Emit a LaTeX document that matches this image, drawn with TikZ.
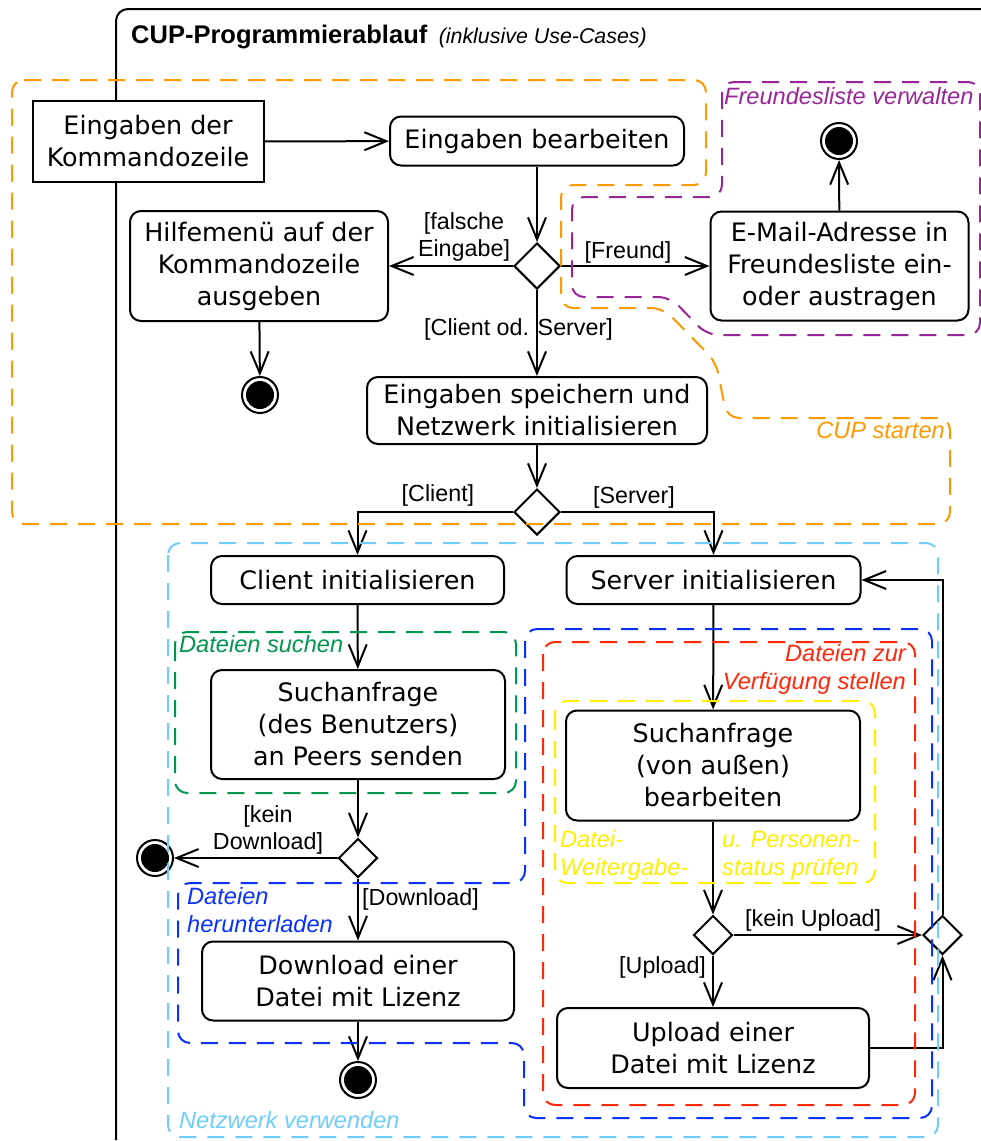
\documentclass[tikz,border=0pt]{standalone}
\usepackage{fontspec}
\setmainfont{Liberation Sans}
\newfontfamily\actfont{DejaVu Sans}
\usetikzlibrary{arrows.meta,shapes.geometric}

\definecolor{zoneorange}{RGB}{255,153,0}
\definecolor{zonepurple}{RGB}{153,38,153}
\definecolor{zonegreen}{RGB}{0,150,80}
\definecolor{zonelightblue}{RGB}{110,205,255}
\definecolor{zoneblue}{RGB}{10,50,255}
\definecolor{zonered}{RGB}{255,40,10}
\definecolor{zoneyellow}{RGB}{255,238,0}

\begin{document}
\begin{tikzpicture}[x=1pt,y=-1pt,
  flow/.style={line width=2pt,-{Straight Barb[length=22pt,width=18pt]}},
  action/.style={draw,line width=2pt,fill=white,rounded corners=11pt,align=center,
    inner sep=0pt,font=\actfont\fontsize{25.4}{32}\selectfont},
  plainbox/.style={action,sharp corners},
  decision/.style={draw,diamond,aspect=1,line width=2pt,fill=white,inner sep=0pt},
  final/.style={circle,draw,line width=2pt,fill=white,minimum size=36pt,inner sep=0pt,
    path picture={\fill[black] (path picture bounding box.center) circle (14pt);}},
  guard/.style={font=\fontsize{23.3}{27}\selectfont,inner sep=0pt},
  zone/.style={line width=2pt,dash pattern=on 17pt off 11pt,rounded corners=12pt},
  zonelabel/.style={font=\itshape\fontsize{23.6}{27.5}\selectfont,inner sep=0pt},
]
\clip (0,0) rectangle (981,1141);

% outer activity frame
\draw[line width=2pt,rounded corners=12pt] (116,1140) -- (116,9) -- (1010,9);
\node[anchor=base west,inner sep=0pt,font=\bfseries\fontsize{25.5}{30}\selectfont]
  (title) at (131,43.5) {CUP-Programmierablauf};
\node[anchor=base west,inner sep=0pt,font=\itshape\fontsize{21.4}{26}\selectfont]
  (subtitle) at ([xshift=11pt]title.base east) {(inklusive Use-Cases)};

% actions
\node[plainbox,minimum width=231pt,minimum height=81pt] (cmd) at (148,141.5) {Eingaben der\\Kommandozeile};
\node[action,minimum width=294pt,minimum height=49pt] (edit) at (537,141) {Eingaben bearbeiten};
\node[decision,minimum size=46pt] (d1) at (537,266) {};
\node[action,minimum width=258pt,minimum height=110pt] (help) at (259,266) {Hilfemen\"u auf der\\Kommandozeile\\ausgeben};
\node[final] (endhelp) at (260,395) {};
\node[action,minimum width=258pt,minimum height=109pt] (mail) at (839.5,266) {E-Mail-Adresse in\\Freundesliste ein-\\oder austragen};
\node[final] (endmail) at (839,141) {};
\node[action,minimum width=340pt,minimum height=67pt] (store) at (537,410.5) {Eingaben speichern und\\Netzwerk initialisieren};
\node[decision,minimum size=46pt] (d2) at (537,512) {};
\node[action,minimum width=293pt,minimum height=48pt] (client) at (357.5,580) {Client initialisieren};
\node[action,minimum width=294pt,minimum height=48pt] (server) at (713.5,580) {Server initialisieren};
\node[action,minimum width=294pt,minimum height=109pt] (search) at (358,724.5) {Suchanfrage\\(des Benutzers)\\an Peers senden};
\node[decision,minimum size=39pt] (d3) at (358,858) {};
\node[final] (enddl) at (155,858) {};
\node[action,minimum width=312pt,minimum height=79pt] (download) at (358,981) {Download einer\\Datei mit Lizenz};
\node[final] (endnet) at (358,1080) {};
\node[action,minimum width=294pt,minimum height=110pt] (request) at (713,765.5) {Suchanfrage\\(von au\ss en)\\bearbeiten};
\node[decision,minimum size=39pt] (d4) at (713,935) {};
\node[decision,minimum size=39pt] (d5) at (942.5,935) {};
\node[action,minimum width=312pt,minimum height=80pt] (upload) at (713,1048) {Upload einer\\Datei mit Lizenz};

% control flow
\draw[flow] (cmd) -- (edit);
\draw[flow] (edit) -- (d1);
\draw[flow] (d1) -- (help);
\draw[flow] (d1) -- (mail);
\draw[flow] (d1) -- (store);
\draw[flow] (help) -- (endhelp);
\draw[flow] (mail) -- (endmail);
\draw[flow] (store) -- (d2);
\draw[flow] (d2.west) -| (client.north);
\draw[flow] (d2.east) -| (server.north);
\draw[flow] (client) -- (search);
\draw[flow] (search) -- (d3);
\draw[flow] (d3) -- (enddl);
\draw[flow] (d3) -- (download);
\draw[flow] (download) -- (endnet);
\draw[flow] (server) -- (request);
\draw[flow] (request) -- (d4);
\draw[flow] (d4) -- (d5);
\draw[flow] (d4) -- (upload);
\draw[flow] (upload.east) -| (d5.south);
\draw[flow] (d5.north) |- (server.east);

% guards (multi-line nodes sit on the baseline of their last line)
\node[guard,align=center,anchor=base] (gwrong) at (464,256.5) {[falsche\\Eingabe]};
\node[guard,anchor=base] (gfriend) at (628,258) {[Freund]};
\node[guard,anchor=base west] (gcs) at (424,335.5) {[Client od. Server]};
\node[guard,anchor=base west] (gclient) at (401.5,501.5) {[Client]};
\node[guard,anchor=base west] (gserver) at (593,503) {[Server]};
\node[guard,align=center,anchor=base] (gnodl) at (268,849.5) {[kein\\Download]};
\node[guard,anchor=base west] (gdl) at (362,905) {[Download]};
\node[guard,anchor=base west] (gnoup) at (745,926.5) {[kein Upload]};
\node[guard,anchor=base west] (gup) at (619,973) {[Upload]};

% use-case regions
\draw[zone,zoneorange] (12,80) -- (706,80) -- (706,185) -- (561,185) -- (561,308) -- (663,308)
  -- (716,362) -- (727,418) -- (950,418) -- (950,524) -- (12,524) -- cycle;
\draw[zone,zonepurple] (722,82) -- (980,82) -- (980,335) -- (707,335) -- (670,297)
  -- (572,297) -- (572,197) -- (722,197) -- cycle;
\draw[zone,zonelightblue] (168,543) rectangle (938,1137);
\draw[zone,zonegreen] (175,632) rectangle (516,793);
\draw[zone,zoneblue] (525,629) -- (932,629) -- (932,1118) -- (524,1118) -- (524,1043)
  -- (178,1043) -- (178,883) -- (525,883) -- cycle;
\draw[zone,zonered] (543,642) rectangle (915,1105);
\draw[zone,zoneyellow] (555,701) rectangle (875,883);

% region names
\node[zonelabel,zonepurple,anchor=base west] (lfriends) at (724,104.5) {Freundesliste verwalten};
\node[zonelabel,zoneorange,anchor=base east] (lstart) at (945,438) {CUP starten};
\node[zonelabel,zonegreen,anchor=base west] (lsearch) at (179,652) {Dateien suchen};
\node[zonelabel,zoneblue,align=left,anchor=base west] (ldownload) at (187,932) {Dateien\\herunterladen};
\node[zonelabel,zonelightblue,anchor=base west] (lnet) at (179,1128) {Netzwerk verwenden};
\node[zonelabel,zonered,align=right,anchor=base east] (lprovide) at (906,689) {Dateien zur\\Verf\"ugung stellen};
\node[zonelabel,zoneyellow,align=left,anchor=base west] (lcheckA) at (560,875) {Datei-\\Weitergabe-};
\node[zonelabel,zoneyellow,align=left,anchor=base west] (lcheckB) at (722,875) {u. Personen-\\status pr\"ufen};
\end{tikzpicture}
\end{document}
